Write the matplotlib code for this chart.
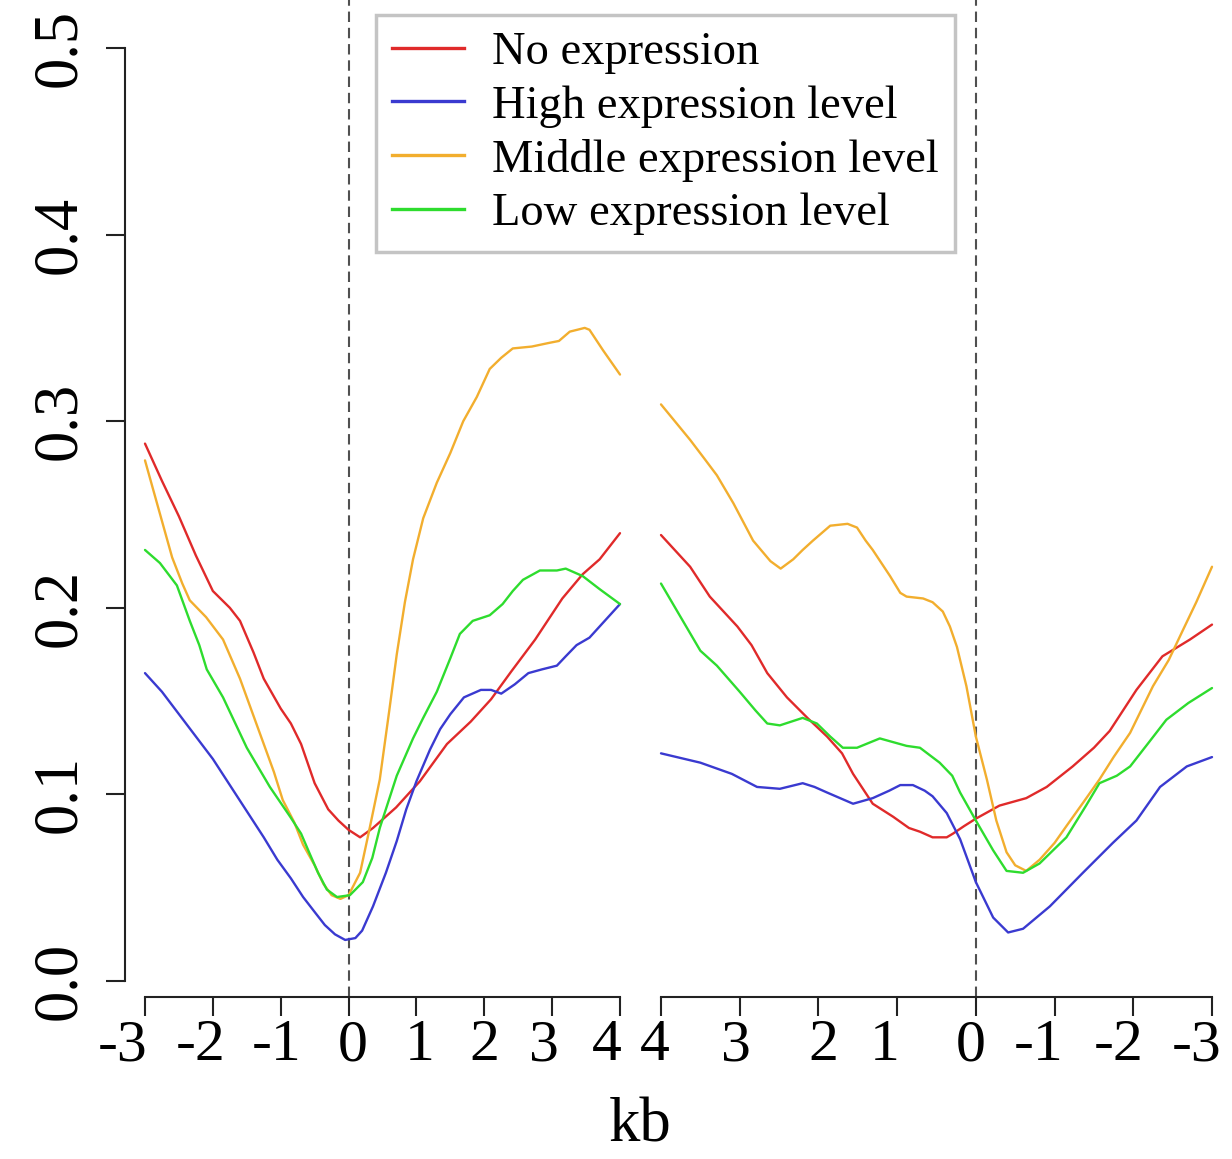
import matplotlib
matplotlib.use("Agg")
import matplotlib.pyplot as plt
from matplotlib.lines import Line2D
import matplotlib.transforms as mtransforms

plt.rcParams['font.family'] = ['Liberation Serif', 'DejaVu Serif']

# ---------------- data ----------------
series_names = ["No expression", "High expression level",
                "Middle expression level", "Low expression level"]
series_colors = ["#E02A2A", "#3A3AD0", "#F2AE2E", "#2EDC2E"]

# Left panel (-3 .. 4 kb)
left_red_x = [-3, -2.75, -2.5, -2.25, -2.0, -1.75, -1.6, -1.4, -1.25, -1.0, -0.85, -0.7, -0.5, -0.3, -0.15, 0, 0.17, 0.36, 0.7, 1.05, 1.45, 1.8, 2.1, 2.4, 2.75, 3.15, 3.45, 3.7, 4]
left_red_y = [0.288, 0.268, 0.249, 0.228, 0.209, 0.200, 0.193, 0.176, 0.162, 0.146, 0.138, 0.127, 0.106, 0.092, 0.086, 0.081, 0.077, 0.082, 0.093, 0.107, 0.127, 0.139, 0.151, 0.166, 0.183, 0.205, 0.218, 0.226, 0.240]

left_blue_x = [-3, -2.75, -2.5, -2.25, -2.0, -1.75, -1.5, -1.25, -1.05, -0.85, -0.67, -0.5, -0.35, -0.2, -0.05, 0.1, 0.2, 0.36, 0.55, 0.71, 0.85, 1.0, 1.2, 1.35, 1.5, 1.7, 1.95, 2.1, 2.25, 2.45, 2.65, 2.85, 3.07, 3.2, 3.36, 3.55, 3.75, 4]
left_blue_y = [0.165, 0.155, 0.143, 0.131, 0.119, 0.105, 0.091, 0.077, 0.065, 0.055, 0.045, 0.037, 0.030, 0.025, 0.022, 0.023, 0.027, 0.040, 0.058, 0.075, 0.092, 0.107, 0.124, 0.135, 0.143, 0.152, 0.156, 0.156, 0.154, 0.159, 0.165, 0.167, 0.169, 0.174, 0.180, 0.184, 0.192, 0.202]

left_orange_x = [-3, -2.8, -2.6, -2.45, -2.34, -2.1, -1.85, -1.6, -1.4, -1.26, -1.1, -0.97, -0.8, -0.67, -0.5, -0.37, -0.25, -0.12, 0, 0.17, 0.3, 0.46, 0.6, 0.71, 0.83, 0.95, 1.1, 1.3, 1.5, 1.69, 1.89, 2.08, 2.25, 2.42, 2.7, 2.96, 3.1, 3.26, 3.48, 3.55, 3.75, 4]
left_orange_y = [0.279, 0.253, 0.227, 0.213, 0.204, 0.195, 0.183, 0.162, 0.142, 0.128, 0.112, 0.097, 0.085, 0.073, 0.062, 0.052, 0.046, 0.044, 0.046, 0.058, 0.080, 0.108, 0.145, 0.175, 0.203, 0.226, 0.248, 0.267, 0.283, 0.300, 0.313, 0.328, 0.334, 0.339, 0.340, 0.342, 0.343, 0.348, 0.350, 0.349, 0.338, 0.325]

left_green_x = [-3, -2.78, -2.53, -2.45, -2.34, -2.2, -2.09, -1.85, -1.5, -1.16, -0.86, -0.7, -0.57, -0.45, -0.32, -0.17, 0.02, 0.21, 0.35, 0.46, 0.71, 0.95, 1.1, 1.3, 1.5, 1.64, 1.83, 2.08, 2.27, 2.42, 2.57, 2.82, 3.07, 3.2, 3.45, 3.7, 4]
left_green_y = [0.231, 0.224, 0.212, 0.204, 0.193, 0.180, 0.167, 0.152, 0.125, 0.104, 0.088, 0.079, 0.068, 0.058, 0.049, 0.045, 0.046, 0.053, 0.066, 0.082, 0.110, 0.130, 0.141, 0.155, 0.173, 0.186, 0.193, 0.196, 0.202, 0.209, 0.215, 0.220, 0.220, 0.221, 0.217, 0.210, 0.202]

# Right panel (4 .. -3 kb)
right_red_x = [4, 3.63, 3.38, 3.03, 2.85, 2.65, 2.4, 2.14, 1.89, 1.7, 1.56, 1.31, 1.05, 0.85, 0.71, 0.55, 0.37, 0.29, 0.15, 0, -0.3, -0.64, -0.9, -1.23, -1.5, -1.7, -2.04, -2.37, -2.72, -3]
right_red_y = [0.239, 0.222, 0.206, 0.190, 0.180, 0.165, 0.152, 0.141, 0.131, 0.122, 0.111, 0.095, 0.088, 0.082, 0.080, 0.077, 0.077, 0.079, 0.083, 0.087, 0.094, 0.098, 0.104, 0.115, 0.125, 0.134, 0.156, 0.174, 0.183, 0.191]

right_blue_x = [4, 3.5, 3.1, 2.78, 2.49, 2.2, 2.05, 1.89, 1.56, 1.31, 1.1, 0.96, 0.8, 0.65, 0.55, 0.37, 0.2, 0, -0.22, -0.41, -0.6, -0.94, -1.36, -1.74, -2.04, -2.34, -2.68, -3]
right_blue_y = [0.122, 0.117, 0.111, 0.104, 0.103, 0.106, 0.104, 0.101, 0.095, 0.098, 0.102, 0.105, 0.105, 0.102, 0.099, 0.090, 0.076, 0.053, 0.034, 0.026, 0.028, 0.040, 0.058, 0.074, 0.086, 0.104, 0.115, 0.120]

right_orange_x = [4, 3.63, 3.45, 3.29, 3.08, 2.83, 2.61, 2.48, 2.32, 2.2, 2.07, 1.85, 1.63, 1.51, 1.4, 1.31, 1.09, 0.96, 0.88, 0.67, 0.55, 0.42, 0.33, 0.24, 0.12, 0, -0.14, -0.26, -0.39, -0.5, -0.64, -0.81, -1.0, -1.15, -1.37, -1.57, -1.75, -1.96, -2.25, -2.45, -2.63, -2.8, -3]
right_orange_y = [0.309, 0.290, 0.280, 0.271, 0.256, 0.236, 0.225, 0.221, 0.226, 0.231, 0.236, 0.244, 0.245, 0.243, 0.236, 0.231, 0.217, 0.208, 0.206, 0.205, 0.203, 0.198, 0.190, 0.179, 0.158, 0.131, 0.108, 0.086, 0.069, 0.062, 0.059, 0.065, 0.074, 0.083, 0.096, 0.108, 0.120, 0.133, 0.158, 0.172, 0.188, 0.203, 0.222]

right_green_x = [4, 3.75, 3.5, 3.29, 3.0, 2.8, 2.65, 2.49, 2.2, 2.02, 1.85, 1.69, 1.51, 1.22, 0.88, 0.71, 0.46, 0.3, 0.2, 0, -0.22, -0.39, -0.6, -0.81, -1.15, -1.4, -1.57, -1.79, -1.96, -2.2, -2.42, -2.7, -3]
right_green_y = [0.213, 0.195, 0.177, 0.169, 0.155, 0.145, 0.138, 0.137, 0.141, 0.138, 0.131, 0.125, 0.125, 0.130, 0.126, 0.125, 0.117, 0.110, 0.101, 0.086, 0.070, 0.059, 0.058, 0.063, 0.077, 0.094, 0.106, 0.110, 0.115, 0.128, 0.140, 0.149, 0.157]

x_ticks = [-3, -2, -1, 0, 1, 2, 3, 4]
x_ticklabels = ["-3", "-2", "-1", "0", "1", "2", "3", "4"]
y_ticks = [0.0, 0.1, 0.2, 0.3, 0.4, 0.5]
y_ticklabels = ["0.0", "0.1", "0.2", "0.3", "0.4", "0.5"]
x_label = "kb"

# ---------------- figure ----------------
W, H = 1232, 1159
dpi = 100
fig = plt.figure(figsize=(W / dpi, H / dpi), dpi=dpi)

def px2fig(x0, x1, ytop, ybot):
    return [x0 / W, 1 - ybot / H, (x1 - x0) / W, (ybot - ytop) / H]

y0_px, y05_px, ybot_px = 981, 48, 997
ppu_y = (y0_px - y05_px) / 0.5
ylim = (-(ybot_px - y0_px) / ppu_y, y0_px / ppu_y)

axL = fig.add_axes(px2fig(125, 641, 0, ybot_px))
axR = fig.add_axes(px2fig(641, 1232, 0, ybot_px))

ppu_L = (620 - 145) / 7
axL.set_xlim(-3 - 20 / ppu_L, 4 + (641 - 620) / ppu_L)
ppu_R = (1212 - 661) / 7
axR.set_xlim(4 + 20 / ppu_R, -3 - (1232 - 1212) / ppu_R)

lw = 1.7
left_data = [(left_red_x, left_red_y), (left_blue_x, left_blue_y),
             (left_orange_x, left_orange_y), (left_green_x, left_green_y)]
right_data = [(right_red_x, right_red_y), (right_blue_x, right_blue_y),
              (right_orange_x, right_orange_y), (right_green_x, right_green_y)]

for (xs, ys), c in zip(left_data, series_colors):
    axL.plot(xs, ys, color=c, lw=lw, solid_joinstyle='round', solid_capstyle='round')
for (xs, ys), c in zip(right_data, series_colors):
    axR.plot(xs, ys, color=c, lw=lw, solid_joinstyle='round', solid_capstyle='round')

for ax in (axL, axR):
    ax.set_ylim(*ylim)
    ax.axvline(0, color="#505050", lw=1.5, ls=(0, (5, 2.8)), zorder=0)
    ax.patch.set_visible(False)
    for s in ("top", "right"):
        ax.spines[s].set_visible(False)
    ax.spines["bottom"].set_bounds(-3, 4)
    ax.spines["bottom"].set_linewidth(1.5)
    ax.spines["bottom"].set_color("#222222")
    ax.set_xticks(x_ticks)
    ax.set_xticklabels(x_ticklabels)
    ax.tick_params(axis="x", length=14, width=1.5, color="#222222",
                   labelsize=43, pad=2)

# small horizontal nudges of the tick labels (pixels), as in the reference
label_shift_L = [-22, -12, -4, 4, 3, 0, -8, -13]
label_shift_R = [-15, -15, -16, -5, -12, 5, -4, -6]
for ax, shifts in ((axL, label_shift_L), (axR, label_shift_R)):
    for lab, dx in zip(ax.get_xticklabels(), shifts):
        lab.set_transform(lab.get_transform() +
                          mtransforms.ScaledTranslation(dx / dpi, 0, fig.dpi_scale_trans))

axL.spines["left"].set_bounds(0, 0.5)
axL.spines["left"].set_linewidth(1.5)
axL.spines["left"].set_color("#222222")
axL.set_yticks(y_ticks)
axL.set_yticklabels(y_ticklabels, rotation=90, va="center")
axL.tick_params(axis="y", length=14, width=1.5, color="#222222",
                labelsize=45, pad=12)
axR.spines["left"].set_visible(False)
axR.set_yticks([])

fig.text(640 / W, 1 - 1126 / H, x_label, fontsize=45, ha="center", va="center")

handles = [Line2D([], [], color=c, lw=2.4) for c in series_colors]
leg = fig.legend(handles, series_names, loc="upper left",
                 bbox_to_anchor=(376 / W, 1 - 15 / H), borderaxespad=0,
                 frameon=True, fancybox=False, framealpha=1,
                 edgecolor="#C4C4C4", fontsize=33.5, handlelength=1.55,
                 handletextpad=0.6, labelspacing=0.24, borderpad=0.35)
leg.get_frame().set_linewidth(2.5)

fig.savefig("out.png", dpi=dpi)
